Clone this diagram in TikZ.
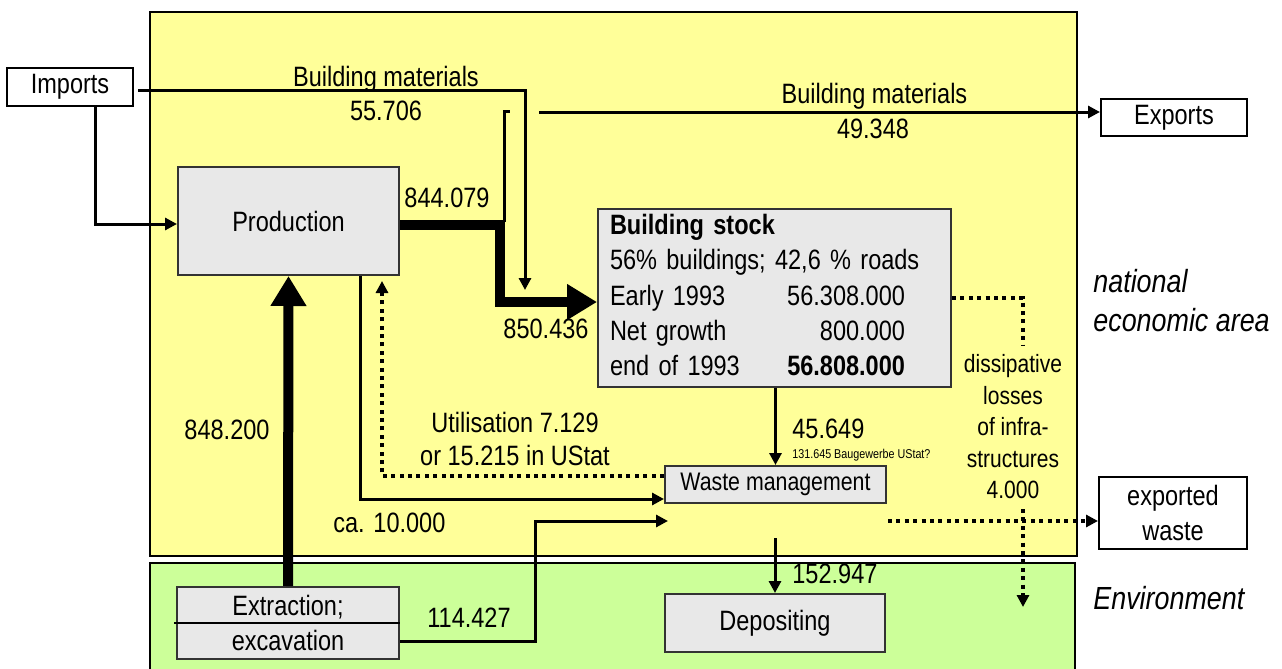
\documentclass[tikz,border=0pt]{standalone}
\usepackage{fontspec}
\setmainfont{Liberation Sans}[FakeStretch=0.84]
\usetikzlibrary{arrows.meta}
\definecolor{natYellow}{HTML}{FFFF99}
\definecolor{envGreen}{HTML}{CCFF99}
\definecolor{boxGrey}{HTML}{E8E8E8}
\tikzset{
  fBox/.style={draw=black!80,line width=1pt,inner sep=0pt,align=center,
        font=\fontsize{14}{17.5}\selectfont},
  fProc/.style={fBox,fill=boxGrey},
  fOut/.style={fBox,draw=black,fill=white},
  fLbl/.style={inner sep=0pt,anchor=base,font=\fontsize{14}{17}\selectfont},
  fLblW/.style={fLbl,anchor=base west},
  fArea/.style={inner sep=0pt,anchor=base west,font=\fontsize{16}{19}\selectfont\itshape},
  fNote/.style={inner sep=0pt,anchor=base west,font=\fontsize{6.4}{7.5}\selectfont},
  fLine/.style={line width=1.5pt},
  fArrow/.style={fLine,-{Triangle[length=6pt,width=6pt]}},
  fThick/.style={line width=5pt,-{Triangle[length=15pt,width=17pt]}},
  fDots/.style={line width=2pt,dash pattern=on 2pt off 2.2pt},
  fDotArrow/.style={fDots,-{Triangle[length=6pt,width=6pt]}},
}

\begin{document}
\spaceskip=3.3pt plus 1.5pt minus 1pt
\begin{tikzpicture}[x=0.5pt,y=-0.5pt]
\useasboundingbox (0,0) rectangle (1282,669);
% areas
\filldraw[fill=natYellow,draw=black,line width=1pt] (150,12) rectangle (1077,556);
\filldraw[fill=envGreen,draw=black,line width=1pt] (150,563) rectangle (1075,676);
\node[fArea] (natA) at (1093,292) {national};
\node[fArea] (natB) at (1093,331) {economic area};
\node[fArea] (envL) at (1093,609) {Environment};

% boxes
\node[fOut,minimum width=63pt,minimum height=19pt]   (imp)  at (70,87)      {Imports};
\node[fOut,minimum width=73pt,minimum height=18.5pt] (exp)  at (1174,117.5) {Exports};
\node[fOut,minimum width=74pt,minimum height=36pt]   (expw) at (1173,513)   {exported\\waste};
\node[fProc,minimum width=110.5pt,minimum height=54pt] (prod) at (288.5,221) {Production};
\node[fProc,align=left,text width=164.5pt,inner xsep=6pt,minimum height=89pt,
      font=\fontsize{14}{17.6}\selectfont] (stock) at (774.5,298) {%
  \begin{tabular*}{147.5pt}{@{}l@{\extracolsep{\fill}}r@{}}
  \multicolumn{2}{@{}l@{}}{\rlap{\textbf{Building stock}}}\\
  \multicolumn{2}{@{}l@{}}{\rlap{56\% buildings; 42,6 \% roads}}\\
  Early 1993 & 56.308.000\\
  Net growth & 800.000\\
  end of 1993 & \textbf{56.808.000}
  \end{tabular*}};
\node[fProc,minimum width=110.5pt,minimum height=18.5pt,
      font=\fontsize{12.7}{15}\selectfont] (waste) at (775.5,484.5) {Waste management};
\node[fProc,minimum width=110pt,minimum height=29pt] (depo) at (775,623) {Depositing};
\node[fProc,minimum width=111pt,minimum height=36pt] (extr) at (288,623) {Extraction;\\excavation};
\draw[line width=1pt] ([xshift=-1pt]extr.west) -- (extr.east);

% labels
\node[fLbl] (bmIn)     at (386,86)   {Building materials};
\node[fLbl] (bmInVal)  at (386,120)  {55.706};
\node[fLbl] (bmOut)    at (874.5,103) {Building materials};
\node[fLbl] (bmOutVal) at (873,138)  {49.348};
\node[fLbl] (prodOut)  at (447,207)  {844.079};
\node[fLbl] (stockIn)  at (546,338)  {850.436};
\node[fLbl] (extrOut)  at (227,439)  {848.200};
\node[fLbl] (utilA)    at (515,432)  {Utilisation 7.129};
\node[fLbl] (utilB)    at (515,465)  {or 15.215 in UStat};
\node[fLblW] (wasteIn) at (792,438)  {45.649};
\node[fNote] (wasteNote) at (792,458) {131.645 Baugewerbe UStat?};
\node[fLblW] (caTen)   at (333,532)  {ca. 10.000};
\node[fLbl] (excOut)   at (469,627)  {114.427};
\node[fLblW] (depoIn)  at (792,583)  {152.947};
\node[inner sep=0pt,align=center,font=\fontsize{12.5}{15.75}\selectfont] (diss) at (1013,427)
  {dissipative\\losses\\of infra-\\structures\\4.000};

% free ends
\coordinate (bmTip)    at (525,290);
\coordinate (exFoot)   at (504.5,222);
\coordinate (exTop)    at (504.5,111);
\coordinate (exTick)   at (510,111);
\coordinate (exResume) at (539,112);
\coordinate (eBend)    at (535,521);
\coordinate (wIn)      at (668,521);
\coordinate (wOut)     at (775,538);
\coordinate (dissTop)  at (1023,345);
\coordinate (dissBot)  at (1023,509);
\coordinate (envDrop)  at (1023,607);
\coordinate (dotStart) at (888,521);

% flows
\draw[fArrow] ([xshift=12.5pt]imp.south) |- ([yshift=-1.5pt]prod.west);
\draw[fArrow,shorten <=2pt] ([yshift=-1.5pt]imp.east) -| (bmTip);
\draw[fThick] ([yshift=-2pt]prod.east) -| ([xshift=-48.5pt,yshift=-2pt]stock.west) -- ([yshift=-2pt]stock.west);
\draw[fLine] (exFoot) -- (exTop) -- (exTick);
\draw[fArrow] (exResume) -- (exResume -| exp.west);
\draw[fThick] (extr.north) -- (prod.south);
\draw[fArrow] ([xshift=35.75pt]prod.south) |- ([yshift=-7.25pt]waste.west);
\draw[fDotArrow,shorten >=2.5pt] ([yshift=4.25pt]waste.west) -| ([xshift=46.75pt]prod.south);
\draw[fArrow] (stock.south -| waste.north) -- (waste.north);
\draw[fArrow] ([yshift=-9pt]extr.east) -| (eBend) -- (wIn);
\draw[fArrow] (wOut) -- (depo.north);
\draw[fDots] (stock.east) -| (dissTop);
\draw[fDotArrow] (dotStart) -- (dotStart -| expw.west);
\draw[fDotArrow] (dissBot) -- (envDrop);
\end{tikzpicture}
\end{document}
